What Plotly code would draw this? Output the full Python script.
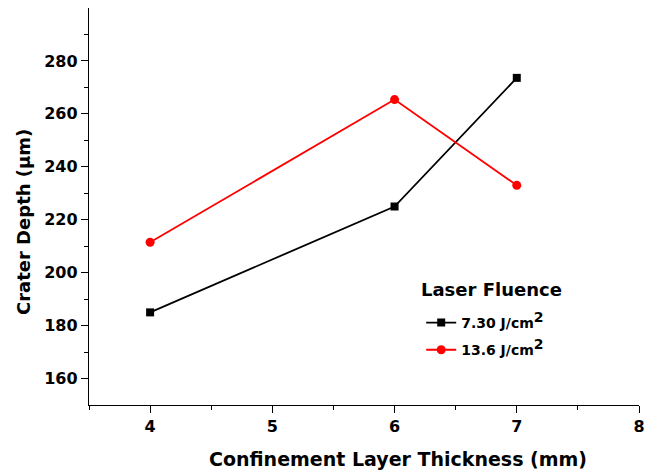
import plotly.graph_objects as go

thickness = [4, 6, 7]
depth_730 = [185.0, 225.0, 273.6]
depth_136 = [211.5, 265.4, 233.0]
legend_title = "Laser Fluence"
series_names = [
    "7.30 J/cm<sup><span style='font-size:14px'>2</span></sup>",
    "13.6 J/cm<sup><span style='font-size:14px'>2</span></sup>",
]
x_title = "Confinement Layer Thickness (mm)"
y_title = "Crater Depth (µm)"
x_ticks = [4, 5, 6, 7, 8]
y_ticks = [160, 180, 200, 220, 240, 260, 280]

FONT = "DejaVu Sans"

fig = go.Figure()
fig.add_trace(go.Scatter(
    x=thickness, y=depth_730, mode="lines+markers", name=series_names[0],
    legendgroup="a",
    line=dict(color="black", width=1.8),
    marker=dict(symbol="square", size=8, color="black"),
))
fig.add_trace(go.Scatter(
    x=thickness, y=depth_136, mode="lines+markers", name=series_names[1],
    legendgroup="b",
    line=dict(color="#ff0000", width=1.8),
    marker=dict(symbol="circle", size=9, color="#ff0000"),
))

fig.update_layout(
    width=653, height=470,
    margin=dict(l=81, r=22, t=0, b=73, autoexpand=False),
    paper_bgcolor="white", plot_bgcolor="white",
    font=dict(family=FONT, color="black"),
    showlegend=True,
    legend=dict(
        x=0.604, y=0.247, xanchor="left", yanchor="top",
        bgcolor="rgba(0,0,0,0)",
        font=dict(size=14, family=FONT, weight="bold"),
        tracegroupgap=6,
    ),
    annotations=[
        dict(text="<b>" + legend_title + "</b>", xref="paper", yref="paper",
             x=0.600, y=0.292, xanchor="left", yanchor="middle", showarrow=False,
             font=dict(size=18, family=FONT, color="black")),
        dict(text="<b>" + x_title + "</b>", xref="paper", yref="paper",
             x=0.562, y=-0.136, xanchor="center", yanchor="middle", showarrow=False,
             font=dict(size=19, family=FONT, color="black")),
        dict(text="<b>" + y_title + "</b>", xref="paper", yref="paper",
             x=-0.118, y=0.461, xanchor="center", yanchor="middle", showarrow=False,
             textangle=-90, font=dict(size=18, family=FONT, color="black")),
    ],
)

fig.update_xaxes(
    range=[3.5, 8], showline=True, linecolor="black", linewidth=1.4,
    showgrid=False, zeroline=False, automargin=False,
    tickmode="array", tickvals=x_ticks, ticktext=[str(v) for v in x_ticks],
    ticks="outside", ticklen=7, tickwidth=1.4, tickcolor="black",
    tickfont=dict(size=16, family=FONT, weight="bold"),
    minor=dict(ticks="outside", ticklen=4, tickwidth=1.4, tickcolor="black",
               tickmode="array", tickvals=[3.5, 4.5, 5.5, 6.5, 7.5]),
)
fig.update_yaxes(
    range=[150, 300], showline=True, linecolor="black", linewidth=1.4,
    showgrid=False, zeroline=False, automargin=False,
    tickmode="array", tickvals=y_ticks, ticktext=[str(v) for v in y_ticks],
    ticks="outside", ticklen=7, tickwidth=1.4, tickcolor="black",
    tickfont=dict(size=16, family=FONT, weight="bold"),
    minor=dict(ticks="outside", ticklen=4, tickwidth=1.4, tickcolor="black",
               tickmode="array", tickvals=[170, 190, 210, 230, 250, 270, 290]),
)

fig.write_html("out.html")
